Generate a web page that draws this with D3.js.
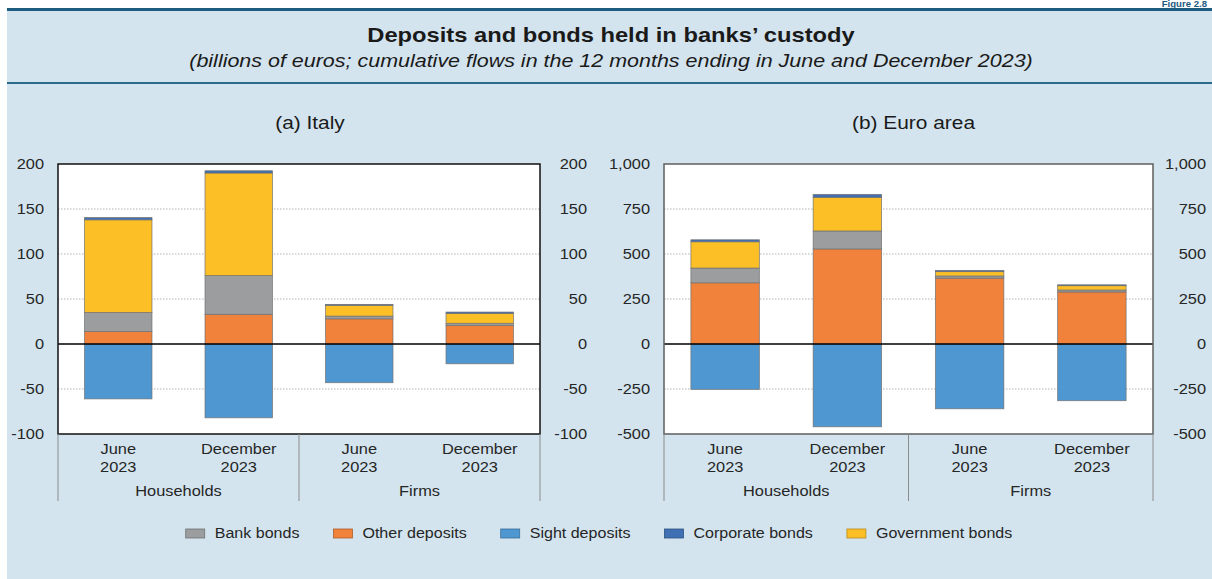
<!DOCTYPE html>
<html>
<head>
<meta charset="utf-8">
<script src="https://cdn.jsdelivr.net/npm/d3@7"></script>
<style>
  html, body { margin: 0; padding: 0; background: #ffffff; }
  svg { display: block; font-family: "Liberation Sans", Arial, Helvetica, sans-serif; }
</style>
</head>
<body>
<svg id="chart" width="1212" height="579"></svg>
<script>
// ---- data -------------------------------------------------------------
const periodLines = [["June", "2023"], ["December", "2023"], ["June", "2023"], ["December", "2023"]];
const sectors = ["Households", "Firms"];
const seriesNames = ["Bank bonds", "Other deposits", "Sight deposits", "Corporate bonds", "Government bonds"];
const seriesColors = ["#9b9d9e", "#f0823b", "#4f97d1", "#3f70b3", "#fcbf26"];

// Italy (billions of euros): Households Jun, Households Dec, Firms Jun, Firms Dec
const italyBankBonds       = [21, 43, 3, 2.5];
const italyOtherDeposits   = [14, 33, 28, 20.5];
const italySightDeposits   = [-61, -82, -43, -22];
const italyCorporateBonds  = [2.5, 2.5, 1, 1.5];
const italyGovernmentBonds = [103, 114, 12, 11];

// Euro area (billions of euros)
const euroBankBonds       = [82, 100, 12, 11];
const euroOtherDeposits   = [340, 528, 366, 289];
const euroSightDeposits   = [-252, -460, -360, -315];
const euroCorporateBonds  = [11, 16, 7, 5];
const euroGovernmentBonds = [146, 187, 24, 24];

const italyTicks = [-100, -50, 0, 50, 100, 150, 200];
const euroTicks  = [-500, -250, 0, 250, 500, 750, 1000];

// ---- helpers ------------------------------------------------------------
const SX = 1.13; // horizontal text stretch of the house style
const svg = d3.select("#chart");
const textColor = "#262626";

function stretch(sel) {
  sel.each(function () {
    const t = d3.select(this);
    const x = +t.attr("x") || 0;
    const y = +t.attr("y") || 0;
    t.attr("transform", `translate(${x},${y}) scale(${SX},1)`).attr("x", 0).attr("y", 0);
  });
  return sel;
}

function addText(g, x, y, str, opts = {}) {
  const t = g.append("text")
    .attr("x", x).attr("y", y)
    .attr("text-anchor", opts.anchor || "middle")
    .attr("font-size", opts.size || 14.5)
    .attr("font-weight", opts.weight || "normal")
    .attr("font-style", opts.style || "normal")
    .attr("fill", opts.fill || textColor)
    .text(str);
  stretch(t);
  return t;
}

const hyphenLocale = d3.formatLocale({ decimal: ".", thousands: ",", grouping: [3], currency: ["", ""], minus: "-" });

// ---- frame ----------------------------------------------------------------
svg.append("rect").attr("x", 7).attr("y", 8).attr("width", 1212).attr("height", 579).attr("fill", "#d3e4ee");
svg.append("rect").attr("x", 7).attr("y", 8).attr("width", 1212).attr("height", 3).attr("fill", "#1d5b7f");
svg.append("rect").attr("x", 7).attr("y", 82).attr("width", 1212).attr("height", 2).attr("fill", "#2a6a8c");

addText(svg, 1207, 7, "Figure 2.8", { anchor: "end", size: 8.5, weight: "bold", fill: "#1d5b7f" });

addText(svg, 611, 42, "Deposits and bonds held in banks\u2019 custody", { size: 21, weight: "bold", fill: "#1a1a1a" });
addText(svg, 611, 67, "(billions of euros; cumulative flows in the 12 months ending in June and December 2023)",
  { size: 19, style: "italic", fill: "#1a1a1a" });

// ---- panels ----------------------------------------------------------------
const stackKeys = ["Sight deposits", "Other deposits", "Bank bonds", "Government bonds", "Corporate bonds"];

function buildRows(bank, other, sight, corp, gov) {
  return periodLines.map((p, i) => ({
    idx: i,
    "Bank bonds": bank[i],
    "Other deposits": other[i],
    "Sight deposits": sight[i],
    "Corporate bonds": corp[i],
    "Government bonds": gov[i]
  }));
}

function drawPanel(cfg) {
  const g = svg.append("g");
  const { left, right, top, bottom } = cfg;

  const x = d3.scaleBand()
    .domain(d3.range(periodLines.length))
    .range([left, right])
    .paddingInner(0.44)
    .paddingOuter(0.22);

  const y = d3.scaleLinear().domain(cfg.domain).range([bottom, top]);

  // plot background
  g.append("rect")
    .attr("x", left).attr("y", top)
    .attr("width", right - left).attr("height", bottom - top)
    .attr("fill", "#ffffff");

  // dotted grid
  g.append("g").selectAll("line")
    .data(cfg.ticks.filter(t => t !== 0 && t !== cfg.domain[0] && t !== cfg.domain[1]))
    .join("line")
    .attr("x1", left).attr("x2", right)
    .attr("y1", d => y(d)).attr("y2", d => y(d))
    .attr("stroke", "#b3b3b3").attr("stroke-width", 1).attr("stroke-dasharray", "1.5,1.5");

  // stacked bars
  const rows = buildRows(...cfg.values);
  const stacked = d3.stack().keys(stackKeys).offset(d3.stackOffsetDiverging)(rows);
  const colorOf = d3.scaleOrdinal().domain(seriesNames).range(seriesColors);

  g.append("g").selectAll("g")
    .data(stacked)
    .join("g")
    .attr("fill", d => colorOf(d.key))
    .selectAll("rect")
    .data(d => d)
    .join("rect")
    .attr("x", d => x(d.data.idx))
    .attr("width", x.bandwidth())
    .attr("y", d => y(Math.max(d[0], d[1])))
    .attr("height", d => Math.abs(y(d[0]) - y(d[1])))
    .attr("stroke", "#707070")
    .attr("stroke-width", 0.8)
    .attr("stroke-opacity", 0.85);

  // zero line
  g.append("line")
    .attr("x1", left).attr("x2", right)
    .attr("y1", y(0)).attr("y2", y(0))
    .attr("stroke", "#000").attr("stroke-width", 1.5);

  // border
  g.append("rect")
    .attr("x", left).attr("y", top)
    .attr("width", right - left).attr("height", bottom - top)
    .attr("fill", "none")
    .attr("stroke", cfg.border).attr("stroke-width", 1.5);

  // value axes on both sides
  const fmt = hyphenLocale.format(cfg.fmt);
  const leftAxis = g.append("g")
    .attr("transform", `translate(${left},0)`)
    .call(d3.axisLeft(y).tickValues(cfg.ticks).tickFormat(fmt).tickSize(0).tickPadding(14));
  const rightAxis = g.append("g")
    .attr("transform", `translate(${right},0)`)
    .call(d3.axisRight(y).tickValues(cfg.ticks).tickFormat(fmt).tickSize(0).tickPadding(cfg.rightPad));
  [leftAxis, rightAxis].forEach(a => {
    a.select(".domain").remove();
    a.selectAll("text")
      .attr("font-size", 14.5)
      .attr("font-family", "Liberation Sans, Arial, sans-serif")
      .attr("fill", textColor);
  });
  rightAxis.selectAll("text").attr("text-anchor", "end");
  stretch(leftAxis.selectAll("text"));
  stretch(rightAxis.selectAll("text"));

  // category labels
  periodLines.forEach((lines, i) => {
    const cx = x(i) + x.bandwidth() / 2;
    addText(g, cx, 454, lines[0]);
    addText(g, cx, 472, lines[1]);
  });

  // sector separators and labels
  const mid = (left + right) / 2;
  [left, mid, right].forEach(sx => {
    g.append("line")
      .attr("x1", sx).attr("x2", sx)
      .attr("y1", bottom).attr("y2", 501)
      .attr("stroke", "#8c8c8c").attr("stroke-width", 1);
  });
  sectors.forEach((s, i) => {
    addText(g, i === 0 ? (left + mid) / 2 : (mid + right) / 2, 496, s);
  });

  // panel title
  addText(g, (left + right) / 2 + cfg.titleShift, 129, cfg.title, { size: 18.5, fill: "#1a1a1a" });
}

drawPanel({
  title: "(a) Italy",
  left: 58, right: 540, top: 164, bottom: 434,
  domain: [-100, 200], ticks: italyTicks, fmt: "d",
  border: "#111111", rightPad: 47, titleShift: 11,
  values: [italyBankBonds, italyOtherDeposits, italySightDeposits, italyCorporateBonds, italyGovernmentBonds]
});

drawPanel({
  title: "(b) Euro area",
  left: 664, right: 1153, top: 164, bottom: 434,
  domain: [-500, 1000], ticks: euroTicks, fmt: ",",
  border: "#5e5e5e", rightPad: 53, titleShift: 5,
  values: [euroBankBonds, euroOtherDeposits, euroSightDeposits, euroCorporateBonds, euroGovernmentBonds]
});

// ---- legend -----------------------------------------------------------------
const legend = svg.append("g");
const swW = 19, swH = 9, swGap = 10, itemGap = 34;
let cursor = 0;
seriesNames.forEach((name, i) => {
  const item = legend.append("g");
  item.append("rect")
    .attr("x", 0).attr("y", 529)
    .attr("width", swW).attr("height", swH)
    .attr("fill", seriesColors[i])
    .attr("stroke", d3.color(seriesColors[i]).darker(0.9))
    .attr("stroke-width", 0.8);
  const t = addText(item, swW + swGap, 538, name, { anchor: "start", size: 14.2 });
  const w = swW + swGap + t.node().getComputedTextLength() * SX;
  item.attr("transform", `translate(${cursor},0)`);
  cursor += w + itemGap;
});
const legendWidth = cursor - itemGap;
legend.attr("transform", `translate(${599 - legendWidth / 2},0)`);
</script>
</body>
</html>
